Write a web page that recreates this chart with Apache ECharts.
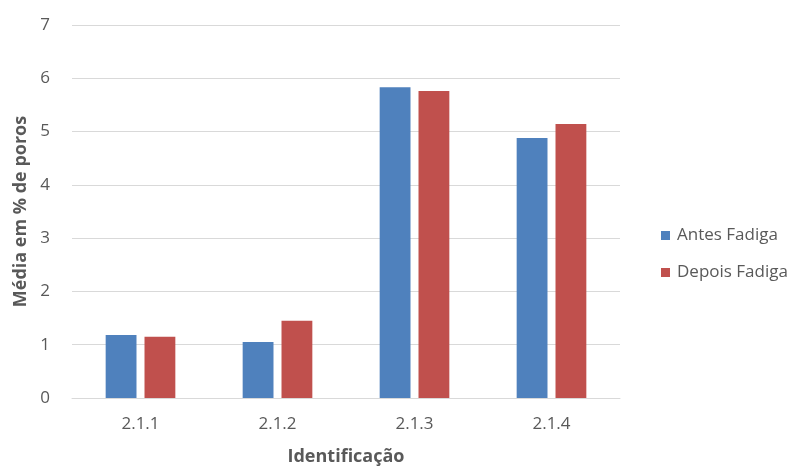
<!DOCTYPE html>
<html><head><meta charset="utf-8">
<script src="https://cdn.jsdelivr.net/npm/echarts@6/dist/echarts.min.js"></script>
<style>html,body{margin:0;padding:0;background:#fff}#c{width:791px;height:471px}</style>
</head><body><div id="c"></div>
<script>
const categories = ['2.1.1', '2.1.2', '2.1.3', '2.1.4'];
const antesFadiga = [1.18, 1.05, 5.83, 4.88];
const depoisFadiga = [1.15, 1.45, 5.76, 5.14];
const yTicks = [0, 1, 2, 3, 4, 5, 6, 7];

const font = 'Open Sans';
const chart = echarts.init(document.getElementById('c'), null, {renderer: 'canvas'});
chart.setOption({
  animation: false,
  textStyle: {fontFamily: font},
  grid: {left: 72, right: 171, top: 25, bottom: 72, containLabel: false},
  legend: {
    orient: 'vertical', left: 656, top: 222, itemWidth: 9, itemHeight: 9, itemGap: 20,
    icon: 'rect',
    textStyle: {fontFamily: font, fontSize: 17, color: '#595959', padding: [0, 0, 0, 2]},
    data: ['Antes Fadiga', 'Depois Fadiga']
  },
  xAxis: {
    type: 'category', data: categories,
    name: 'Identificação', nameLocation: 'middle', nameGap: 50,
    nameTextStyle: {fontFamily: font, fontSize: 18, fontWeight: 'bold', color: '#595959'},
    axisLine: {lineStyle: {color: '#d9d9d9'}},
    axisTick: {show: false},
    axisLabel: {fontFamily: font, fontSize: 17, color: '#595959', margin: 18}
  },
  yAxis: {
    type: 'value', min: yTicks[0], max: yTicks[yTicks.length - 1], interval: 1,
    name: 'Média em % de poros', nameLocation: 'middle', nameGap: 36,
    nameTextStyle: {fontFamily: font, fontSize: 18, fontWeight: 'bold', color: '#595959'},
    axisLine: {show: false}, axisTick: {show: false},
    axisLabel: {fontFamily: font, fontSize: 17, color: '#595959', margin: 22},
    splitLine: {lineStyle: {color: '#d9d9d9'}}
  },
  series: [
    {name: 'Antes Fadiga', type: 'bar', data: antesFadiga, barWidth: '22.5%', barGap: '26%',
     itemStyle: {color: '#4F81BD'}},
    {name: 'Depois Fadiga', type: 'bar', data: depoisFadiga, barWidth: '22.5%',
     itemStyle: {color: '#C0504D'}}
  ]
});
</script></body></html>
